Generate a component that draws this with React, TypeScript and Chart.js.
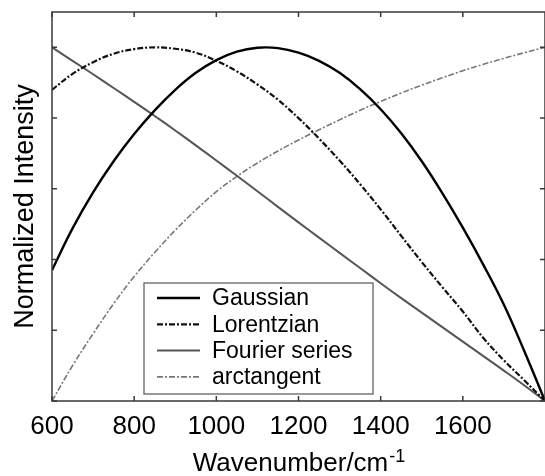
import React, { useEffect, useRef } from "react";
import { Chart, registerables } from "chart.js";

Chart.register(...registerables);

// Wavenumber grid (cm^-1) and normalized intensities of each line-shape model
const wavenumbers = [
  600, 650, 700, 750, 800, 850, 900, 950, 1000, 1050, 1100, 1150, 1200,
  1250, 1300, 1350, 1400, 1450, 1500, 1550, 1600, 1650, 1700, 1750, 1800,
];

const gaussian = [
  0.37, 0.488, 0.59, 0.678, 0.755, 0.822, 0.88, 0.928, 0.964, 0.988, 0.999,
  0.998, 0.985, 0.962, 0.928, 0.882, 0.825, 0.757, 0.678, 0.588, 0.49,
  0.385, 0.272, 0.14, 0.0,
];

const lorentzian = [
  0.88, 0.925, 0.958, 0.982, 0.995, 1.0, 0.996, 0.985, 0.962, 0.932, 0.895,
  0.852, 0.8, 0.742, 0.68, 0.613, 0.542, 0.467, 0.393, 0.322, 0.253, 0.178,
  0.115, 0.058, 0.0,
];

const fourierSeries = [
  1.0, 0.962, 0.924, 0.885, 0.846, 0.806, 0.765, 0.723, 0.68, 0.637, 0.593,
  0.549, 0.505, 0.462, 0.419, 0.376, 0.333, 0.291, 0.25, 0.209, 0.168,
  0.127, 0.086, 0.044, 0.0,
];

const arctangent = [
  0.0, 0.1, 0.19, 0.275, 0.352, 0.42, 0.483, 0.54, 0.592, 0.635, 0.673,
  0.707, 0.738, 0.767, 0.795, 0.822, 0.847, 0.871, 0.893, 0.914, 0.934,
  0.952, 0.969, 0.985, 1.0,
];

const seriesNames = ["Gaussian", "Lorentzian", "Fourier series", "arctangent"];

const xTickValues = [600, 800, 1000, 1200, 1400, 1600];
const yTickValues = [0, 0.2, 0.4, 0.6, 0.8, 1.0];

const xTitle = "Wavenumber/cm";
const xTitleSup = "-1";
const yTitle = "Normalized Intensity";

const FONT = "'Liberation Sans', Arial, Helvetica, sans-serif";
const DASH_DOT = [6, 2, 2, 2];

// Box frame with inward tick marks on every side
const framePlugin = {
  id: "frame",
  afterDatasetsDraw(chart: any) {
    const { ctx, chartArea, scales } = chart;
    const { left, right, top, bottom } = chartArea;
    const tick = 5;
    ctx.save();
    ctx.strokeStyle = "#3a3a3a";
    ctx.lineWidth = 1.5;
    ctx.beginPath();
    ctx.rect(left, top, right - left, bottom - top);
    ctx.stroke();
    ctx.beginPath();
    for (const v of xTickValues) {
      const x = scales.x.getPixelForValue(v);
      ctx.moveTo(x, bottom);
      ctx.lineTo(x, bottom - tick);
      ctx.moveTo(x, top);
      ctx.lineTo(x, top + tick);
    }
    for (const v of yTickValues) {
      const y = scales.y.getPixelForValue(v);
      ctx.moveTo(left, y);
      ctx.lineTo(left + tick, y);
      ctx.moveTo(right, y);
      ctx.lineTo(right - tick, y);
    }
    ctx.stroke();
    ctx.restore();
  },
};

// Axis titles, with a superscript on the x unit
const titlesPlugin = {
  id: "titles",
  afterDraw(chart: any) {
    const { ctx, chartArea } = chart;
    ctx.save();
    ctx.fillStyle = "#000";
    ctx.textBaseline = "alphabetic";

    ctx.font = `26px ${FONT}`;
    const mainW = ctx.measureText(xTitle).width;
    ctx.font = `18px ${FONT}`;
    const supW = ctx.measureText(xTitleSup).width;
    const cx = (chartArea.left + chartArea.right) / 2;
    const x0 = cx - (mainW + supW) / 2;
    ctx.font = `26px ${FONT}`;
    ctx.textAlign = "left";
    ctx.fillText(xTitle, x0, 471);
    ctx.font = `18px ${FONT}`;
    ctx.fillText(xTitleSup, x0 + mainW + 1, 462);

    ctx.font = `27px ${FONT}`;
    ctx.textAlign = "center";
    ctx.translate(33, (chartArea.top + chartArea.bottom) / 2);
    ctx.rotate(-Math.PI / 2);
    ctx.fillText(yTitle, 0, 0);
    ctx.restore();
  },
};

// Boxed legend inside the plot area
const legendPlugin = {
  id: "boxLegend",
  afterDraw(chart: any) {
    const { ctx, chartArea } = chart;
    const bx = chartArea.left + 92;
    const by = chartArea.top + 271;
    const bw = 229;
    const bh = 111;
    ctx.save();
    ctx.fillStyle = "#fff";
    ctx.fillRect(bx, by, bw, bh);
    ctx.strokeStyle = "#555";
    ctx.lineWidth = 1.2;
    ctx.strokeRect(bx, by, bw, bh);
    ctx.font = `23px ${FONT}`;
    ctx.textBaseline = "middle";
    ctx.textAlign = "left";
    chart.data.datasets.forEach((ds: any, i: number) => {
      const y = by + 15 + i * 26.3;
      ctx.strokeStyle = ds.borderColor;
      ctx.lineWidth = ds.borderWidth;
      ctx.setLineDash(ds.borderDash || []);
      ctx.beginPath();
      ctx.moveTo(bx + 13, y);
      ctx.lineTo(bx + 56, y);
      ctx.stroke();
      ctx.setLineDash([]);
      ctx.fillStyle = "#000";
      ctx.fillText(ds.label, bx + 68, y + 1);
    });
    ctx.restore();
  },
};

function toPoints(values: number[]) {
  return wavenumbers.map((x, i) => ({ x, y: values[i] }));
}

export default function App() {
  const canvasRef = useRef<HTMLCanvasElement | null>(null);

  useEffect(() => {
    if (!canvasRef.current) return;
    const chart = new Chart(canvasRef.current, {
      type: "line",
      data: {
        datasets: [
          {
            label: seriesNames[0],
            data: toPoints(gaussian),
            borderColor: "#000",
            borderWidth: 2.4,
          },
          {
            label: seriesNames[1],
            data: toPoints(lorentzian),
            borderColor: "#111",
            borderWidth: 2.2,
            borderDash: DASH_DOT,
          },
          {
            label: seriesNames[2],
            data: toPoints(fourierSeries),
            borderColor: "#555",
            borderWidth: 2,
          },
          {
            label: seriesNames[3],
            data: toPoints(arctangent),
            borderColor: "#777",
            borderWidth: 1.6,
            borderDash: DASH_DOT,
          },
        ],
      },
      options: {
        animation: false,
        responsive: true,
        maintainAspectRatio: false,
        // the frame runs 3px past the right edge of the canvas
        layout: { padding: { top: 12, right: -3, left: 0, bottom: 0 } },
        elements: {
          point: { radius: 0, hoverRadius: 0 },
          line: { tension: 0.4, fill: false },
        },
        plugins: {
          legend: { display: false },
          tooltip: { enabled: false },
        },
        scales: {
          x: {
            type: "linear",
            min: 600,
            max: 1800,
            afterBuildTicks(scale: any) {
              scale.ticks = xTickValues.map((value) => ({ value }));
            },
            afterFit(scale: any) {
              scale.height = 75;
            },
            grid: { display: false, drawTicks: false },
            border: { display: false },
            ticks: {
              color: "#000",
              font: { family: FONT, size: 26 },
              padding: 10,
              maxRotation: 0,
              autoSkip: false,
              callback: (v: any) => String(v),
            },
          },
          y: {
            type: "linear",
            min: 0,
            max: 1.1,
            afterBuildTicks(scale: any) {
              scale.ticks = yTickValues.map((value) => ({ value }));
            },
            afterFit(scale: any) {
              scale.width = 52;
            },
            grid: { display: false, drawTicks: false },
            border: { display: false },
            ticks: { display: false },
          },
        },
      },
      plugins: [framePlugin, legendPlugin, titlesPlugin],
    });
    return () => chart.destroy();
  }, []);

  return (
    <div
      style={{
        position: "fixed",
        left: 0,
        top: 0,
        width: 545,
        height: 476,
        background: "#fff",
      }}
    >
      <canvas ref={canvasRef} />
    </div>
  );
}
